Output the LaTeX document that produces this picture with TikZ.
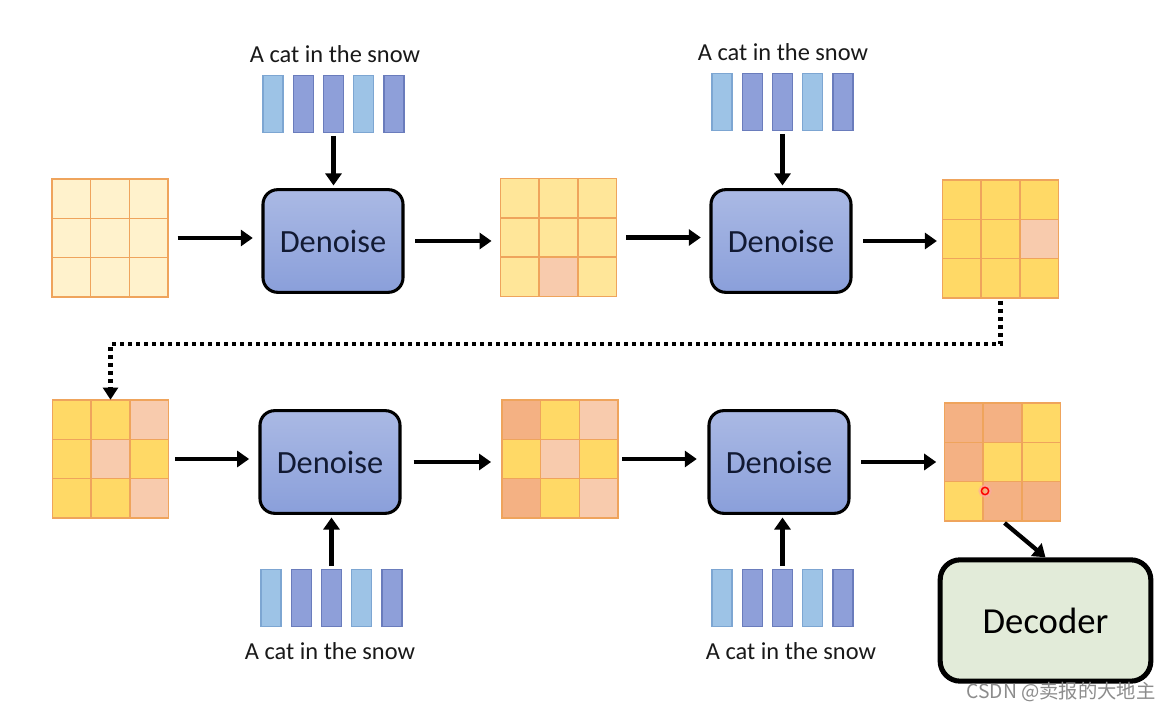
\documentclass[tikz,border=0pt]{standalone}
\usepackage{fontspec}
\setmainfont{Carlito}
\newfontfamily\cjk{Noto Sans CJK SC}
\usetikzlibrary{arrows.meta}
\definecolor{gline}{HTML}{EFA45C}
\definecolor{C}{HTML}{FFF2CC}
\definecolor{L}{HTML}{FFE699}
\definecolor{Y}{HTML}{FFD966}
\definecolor{P}{HTML}{F8CBAD}
\definecolor{O}{HTML}{F4B183}
\definecolor{barL}{HTML}{9DC3E6}
\definecolor{barLd}{HTML}{7DA6D2}
\definecolor{barM}{HTML}{8E9FD9}
\definecolor{barMd}{HTML}{6A7CBC}
\definecolor{dtop}{HTML}{AAB9E4}
\definecolor{dbot}{HTML}{8A9FDA}
\definecolor{dtext}{HTML}{121A33}
\definecolor{decfill}{HTML}{E2EBD9}
\tikzset{
  gridbox/.style={draw=none, inner sep=0pt, minimum width=87pt, minimum height=88.5pt},
  denoisebox/.style={draw=black, line width=2.3pt, rounded corners=11pt, top color=dtop, bottom color=dbot,
    minimum width=105pt, minimum height=77pt, inner sep=0pt, text=dtext, font=\fontsize{24.3}{28}\selectfont},
  barL/.style={draw=barLd, fill=barL, line width=0.8pt, minimum width=15pt, minimum height=43pt, inner sep=0pt},
  barM/.style={draw=barMd, fill=barM, line width=0.8pt, minimum width=15pt, minimum height=43pt, inner sep=0pt},
  prompt/.style={inner sep=0pt, font=\fontsize{18.3}{21}\selectfont, text=black!90},
  arr/.style={line width=3.2pt, -{Triangle[length=9pt,width=12pt]}},
  dotline/.style={line width=3.2pt, dash pattern=on 3pt off 3pt, -{Triangle[length=9pt,width=11pt]}},
  decbox/.style={draw=black, line width=3.8pt, rounded corners=15pt, fill=decfill, minimum width=158pt,
    minimum height=91pt, inner sep=0pt, font=\fontsize{27.5}{32}\selectfont},
}
\newcommand\mygrid[4]{%
  \node[gridbox] (#1) at (#2,#3) {};
  \foreach \c [count=\i from 0] in {#4} {
    \pgfmathtruncatemacro\rr{int(\i/3)}
    \pgfmathtruncatemacro\kk{mod(\i,3)}
    \path[draw=gline, fill=\c, line width=1.2pt] (#2-58+\kk*38.667, #3-59+\rr*39.333) rectangle ++(38.667,39.333);
  }
}
\newcommand\mytokens[3]{%
  \node[barL] (#1a) at (#2+10, #3+29) {};
  \node[barM] (#1b) at (#2+40.25, #3+29) {};
  \node[barM] (#1c) at (#2+70.5, #3+29) {};
  \node[barL] (#1d) at (#2+100.75, #3+29) {};
  \node[barM] (#1e) at (#2+131, #3+29) {};
}
\begin{document}
\begin{tikzpicture}[x=0.75pt,y=-0.75pt]
\useasboundingbox[fill=white] (0,0) rectangle (1172,712);

% grids
\mygrid{g1}{110}{238}{C,C,C,C,C,C,C,C,C}
\mygrid{g2}{558.5}{237.5}{L,L,L,L,L,L,L,P,L}
\mygrid{g3}{1000.5}{239}{Y,Y,Y,Y,Y,P,Y,Y,Y}
\mygrid{g4}{110.5}{459}{Y,Y,P,Y,P,Y,Y,Y,P}
\mygrid{g5}{560}{459}{O,Y,P,Y,P,Y,O,Y,P}
\mygrid{g6}{1002.5}{462}{O,O,Y,O,Y,Y,Y,O,O}

% denoise boxes
\node[denoisebox] (d1) at (333,241) {Denoise};
\node[denoisebox] (d2) at (781,241) {Denoise};
\node[denoisebox] (d3) at (330,462) {Denoise};
\node[denoisebox] (d4) at (779,462) {Denoise};

% tokens
\mytokens{ta}{263}{75}
\mytokens{tb}{712}{73}
\mytokens{tc}{261}{569}
\mytokens{td}{712}{569}
\node[prompt] (pa) at (335,54) {A cat in the snow};
\node[prompt] (pb) at (783,52) {A cat in the snow};
\node[prompt] (pc) at (330,651) {A cat in the snow};
\node[prompt] (pd) at (791,651) {A cat in the snow};

% vertical arrows
\draw[arr, shorten <=2pt, shorten >=2pt] (tac.south) -- (tac.south |- d1.north);
\draw[arr, shorten <=2pt, shorten >=2pt] (tbc.south) -- (tbc.south |- d2.north);
\draw[arr, shorten <=2pt, shorten >=2pt] (tcc.north) -- (tcc.north |- d3.south);
\draw[arr, shorten <=2pt, shorten >=2pt] (tdc.north) -- (tdc.north |- d4.south);

% horizontal arrows
\draw[arr, shorten <=7pt, shorten >=6.5pt] (g1.east) -- (g1.east -| d1.west);
\draw[arr, shorten <=8pt, shorten >=6.5pt] (d1.east) -- (d1.east -| g2.west);
\draw[arr, shorten <=7pt, shorten >=6.5pt] (g2.east) -- (g2.east -| d2.west);
\draw[arr, shorten <=8pt, shorten >=4pt] (d2.east) -- (d2.east -| g3.west);
\draw[arr, shorten <=5pt, shorten >=7pt] (g4.east) -- (g4.east -| d3.west);
\draw[arr, shorten <=9pt, shorten >=8pt] (d3.east) -- (d3.east -| g5.west);
\draw[arr, shorten <=3pt, shorten >=8pt] (g5.east) -- (g5.east -| d4.west);
\draw[arr, shorten <=8pt, shorten >=6pt] (d4.east) -- (d4.east -| g6.west);

% dotted connector
\coordinate (turn) at (1000.5,344);
\draw[dotline, shorten <=2pt] (g3.south) -- (turn) -| (g4.north);

% decoder
\node[decbox] (dec) at (1045.5,620.5) {Decoder};
\draw[arr, shorten <=2pt, shorten >=0pt] (g6.south) -- (dec.north);

% red marker
\node[circle, draw=red!35, line width=2pt, minimum size=8pt, inner sep=0pt, opacity=0.6] (mk) at (985,491) {};
\node[circle, draw=red, line width=1.1pt, minimum size=5.5pt, inner sep=0pt] (mkc) at (985,491) {};

% watermark
\node[text=black!45, font=\cjk\fontsize{14.5}{17}\selectfont, inner sep=0pt] (wm) at (1061,692) {CSDN @卖报的大地主};
\end{tikzpicture}
\end{document}
